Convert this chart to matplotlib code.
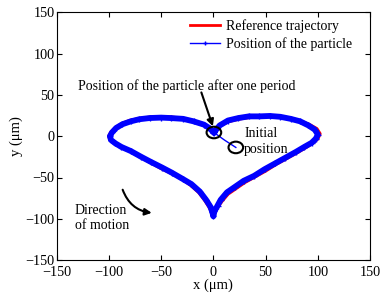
import matplotlib
matplotlib.use("Agg")
import matplotlib.pyplot as plt
from matplotlib.patches import Ellipse
from matplotlib.lines import Line2D

plt.rcParams['font.family'] = ['Liberation Serif', 'DejaVu Serif']
plt.rcParams['axes.unicode_minus'] = True

# Reference trajectory (heart)
ref_x = [0, -5, -10, -20, -30, -40, -50, -60, -70, -80, -88, -94, -98, -100, -99, -95, -89, -80, -70,
         -60, -50, -40, -30, -22, -14, -8, -4, -1, 0,
         1, 4, 8, 14, 22, 30, 40, 50, 60, 70, 80, 88, 95, 100, 102, 99, 92, 84, 75, 65, 55, 45, 35,
         25, 15, 7, 0]
ref_y = [7, 11, 15, 19, 21.5, 23, 23.5, 23, 21.5, 19, 15, 10, 5, 0, -4, -8, -12, -18, -25,
         -32, -39, -45, -52, -59, -68, -78, -86, -93, -98,
         -93, -86, -79, -70, -63, -56, -49, -42, -34, -27, -20, -14, -8.5, -3, 3, 9, 14, 18, 21, 23,
         24, 24, 23, 21, 18, 13, 7]

# Measured particle position
init_x = [21.5, 11, 0.5]
init_y = [-13.6, -5, 4.5]
part_x = [0.5, -4, -9, -19, -29, -41, -50, -61, -71, -79, -87, -93, -97, -99, -98, -94, -88, -79, -69,
          -60, -49, -40, -29, -21, -13, -7, -3, -1, 0,
          1, 4, 7, 13, 21, 29, 39, 49, 59, 69, 79, 87, 94, 98, 100, 97, 91, 83, 74, 64, 54, 44, 34,
          24, 14, 6, 0.5]
part_y = [4.5, 10, 14, 18, 21, 22, 22.5, 22, 20.5, 18, 14.5, 10, 4.5, 0, -4.5, -8.5, -13, -18, -25,
          -31, -38, -44, -52, -58, -67, -77, -85, -92, -97,
          -91, -84, -77, -68, -61, -54, -48, -40, -33, -26, -19, -13, -8, -3, 2, 8, 13, 18, 21, 23.5,
          24.5, 24, 24, 22, 19, 13, 4.5]

x_ticks = [-150, -100, -50, 0, 50, 100, 150]
y_ticks = [-150, -100, -50, 0, 50, 100, 150]

fig = plt.figure(figsize=(3.8, 3.0), dpi=100)
ax = fig.add_axes([0.149, 0.133, 0.825, 0.826])

ax.plot(ref_x, ref_y, color='red', lw=2.4, zorder=2)
ax.plot(init_x, init_y, color='blue', lw=1.0, zorder=3)
ax.plot(part_x, part_y, color='blue', lw=4.2, zorder=3, solid_joinstyle='round')
ax.plot(part_x, part_y, color='blue', lw=0, marker='+', ms=5, mew=1, zorder=3)

ax.add_patch(Ellipse((0.5, 4.5), 14, 14, fill=False, ec='black', lw=1.5, zorder=5))
ax.add_patch(Ellipse((21.5, -13.6), 14, 14, fill=False, ec='black', lw=1.5, zorder=5))

ax.text(-25.7, 61, 'Position of the particle after one period', ha='center', va='center',
        fontsize=10)
ax.annotate('', xy=(-0.5, 12), xytext=(-11.5, 53),
            arrowprops=dict(arrowstyle='-|>', color='black', lw=1.5, mutation_scale=10,
                            shrinkA=0, shrinkB=0))
ax.text(29.4, -6.5, 'Initial\nposition', ha='left', va='center', fontsize=10, linespacing=1.25)

ax.annotate('', xy=(-59, -92.8), xytext=(-86.8, -64.8),
            arrowprops=dict(arrowstyle='-|>', color='black', lw=1.5, mutation_scale=10,
                            shrinkA=0, shrinkB=0, connectionstyle='arc3,rad=0.3'))
ax.text(-132.5, -99, 'Direction\nof motion', ha='left', va='center', fontsize=10, linespacing=1.2)

ax.set_xlim(-150, 150)
ax.set_ylim(-150, 150)
ax.set_xticks(x_ticks)
ax.set_yticks(y_ticks)
ax.tick_params(direction='in', top=True, right=True, length=3.5, labelsize=10.3, pad=1.5)
ax.tick_params(axis='x', pad=4)
ax.set_xlabel('x (μm)', fontsize=10.5, labelpad=0)
ax.set_ylabel('y (μm)', fontsize=10.5, labelpad=1.5)

handles = [Line2D([], [], color='red', lw=2),
           Line2D([], [], color='blue', lw=1, marker='+', ms=3)]
ax.legend(handles, ['Reference trajectory', 'Position of the particle'], loc='upper right',
          bbox_to_anchor=(0.975, 1.01),
          frameon=False, fontsize=10, handlelength=2.2, borderaxespad=0.3, labelspacing=0.25,
          handletextpad=0.45)

fig.savefig('out.png', dpi=100)
